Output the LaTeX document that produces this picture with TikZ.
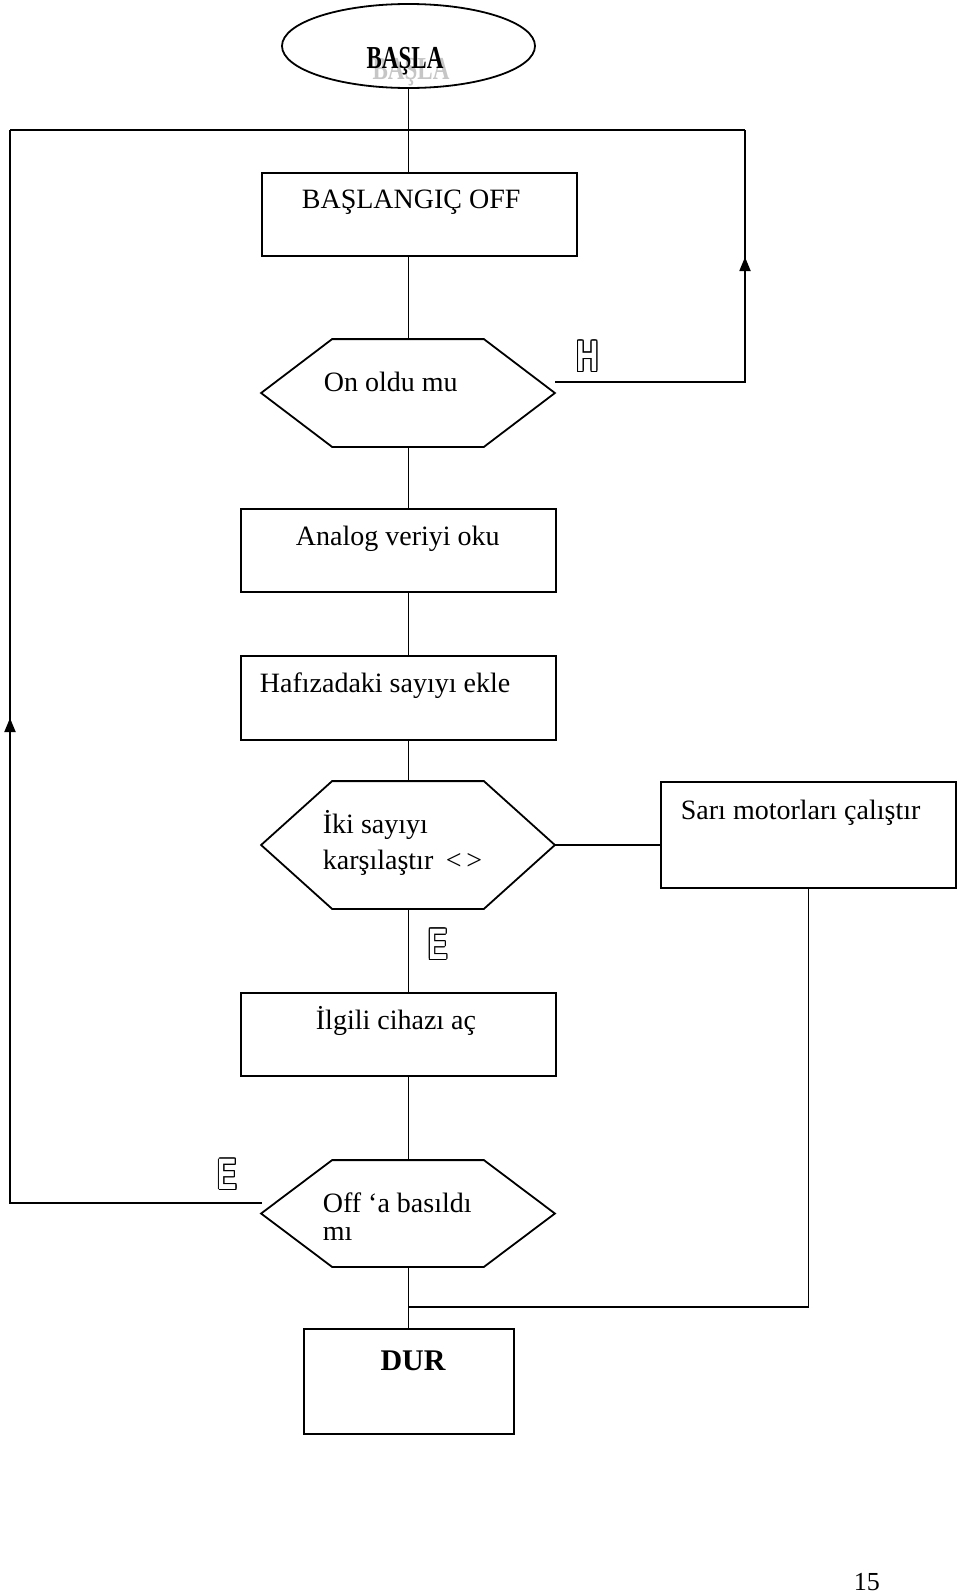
\documentclass[tikz,border=0pt]{standalone}
\usepackage{fontspec}
\setmainfont{Liberation Serif}
\newfontfamily\hsans{Liberation Sans}
\usepackage{contour}
\contourlength{1.3pt}
\usetikzlibrary{arrows.meta,calc,shapes.geometric}
\newcommand{\outl}[1]{{\color{white}\contour{black}{#1}}}
\begin{document}
\begin{tikzpicture}[x=1pt,y=-1pt,line width=1.8pt,
  box/.style={draw,rectangle,inner sep=0pt,line width=1.8pt},
  hexbase/.style={rectangle,inner sep=0pt,draw=none},
  txt/.style={anchor=base west,inner sep=0pt,font=\fontsize{28}{33}\selectfont},
  lbl/.style={inner sep=0pt,font=\hsans\bfseries\fontsize{44}{48}\selectfont},
  tip/.style={-{Triangle[length=14pt,width=11pt]}}]
\useasboundingbox (0,0) rectangle (960,1593);
% trunk x
\coordinate (tk) at (408.5,0);
% start ellipse
\node[draw,ellipse,line width=1.8pt,minimum width=253pt,minimum height=84pt,inner sep=0pt] (ell) at (408.5,46) {};
\node[anchor=base,inner sep=0pt,text=gray!45,font=\bfseries\fontsize{32}{36}\selectfont] (bslsh) at (411,79) {\scalebox{0.72}[1]{BAŞLA}};
\node[anchor=base,inner sep=0pt,font=\bfseries\fontsize{32}{36}\selectfont] (bsl) at (405,68) {\scalebox{0.72}[1]{BAŞLA}};
% boxes
\node[box,minimum width=315pt,minimum height=83pt] (b1) at (419.5,214.5) {};
\node[box,minimum width=315pt,minimum height=83pt] (b2) at (398.5,550.5) {};
\node[box,minimum width=315pt,minimum height=84pt] (b3) at (398.5,698) {};
\node[box,minimum width=295pt,minimum height=106pt] (b5) at (808.5,835) {};
\node[box,minimum width=315pt,minimum height=83pt] (b4) at (398.5,1034.5) {};
\node[box,minimum width=210pt,minimum height=105pt] (b6) at (409,1381.5) {};
% hexagons
\node[hexbase,minimum width=292pt,minimum height=106pt] (h1) at (408,393) {};
\node[hexbase,minimum width=292pt,minimum height=126pt] (h2) at (408,845) {};
\node[hexbase,minimum width=292pt,minimum height=105pt] (h3) at (408,1213.5) {};
\foreach \h in {h1,h2,h3}{
  \draw[line join=miter] (\h.west) -- ([xshift=71pt]\h.north west) -- ([xshift=-71pt]\h.north east) -- (\h.east) -- ([xshift=-71pt]\h.south east) -- ([xshift=71pt]\h.south west) -- cycle;
}
% texts
\node[txt] (t1) at (301,208) {BAŞLANGIÇ OFF};
\node[txt] (t2) at (323,391) {On oldu mu};
\node[txt] (t3) at (295,545) {Analog veriyi oku};
\node[txt] (t4) at (259,692) {Hafızadaki sayıyı ekle};
\node[txt] (t5) at (322,833) {İki sayıyı};
\node[txt] (t6) at (322,869) {karşılaştır\hspace{0.45em}<\,>};
\node[txt] (t7) at (680,819) {Sarı motorları çalıştır};
\node[txt] (t8) at (315,1029) {İlgili cihazı aç};
\node[txt] (t9) at (322,1212) {Off ‘a basıldı};
\node[txt] (t10) at (322,1240) {mı};
\node[anchor=base,inner sep=0pt,font=\bfseries\fontsize{30}{34}\selectfont] (t11) at (413,1370) {DUR};
\node[anchor=base west,inner sep=0pt,font=\fontsize{26}{30}\selectfont] (pg) at (853,1590) {15};
% outlined labels
\node[lbl] (lh) at (587.5,357) {\scalebox{0.7}[1]{\outl{H}}};
\node[lbl] (le1) at (438,945) {\scalebox{0.66}[1]{\outl{E}}};
\node[lbl] (le2) at (227.5,1175) {\scalebox{0.66}[1]{\outl{E}}};
% trunk
\draw (ell.south -| tk) -- (b1.north -| tk);
\draw (b1.south -| tk) -- (h1.north -| tk);
\draw (h1.south -| tk) -- (b2.north -| tk);
\draw (b2.south -| tk) -- (b3.north -| tk);
\draw (b3.south -| tk) -- (h2.north -| tk);
\draw (h2.south -| tk) -- (b4.north -| tk);
\draw (b4.south -| tk) -- (h3.north -| tk);
\draw (h3.south -| tk) -- (b6.north -| tk);
% loop coordinates
\coordinate (tl) at (10,130);
\coordinate (tr) at (745,130);
\coordinate (hs) at (555,382);
\coordinate (hc) at (745,382);
\coordinate (ha) at (745,257);
\coordinate (es) at (262,1203);
\coordinate (ec) at (10,1203);
\coordinate (ea) at (10,718);
\coordinate (sj) at (408.5,1307);
% top line
\draw (tl) -- (tr);
% H branch
\draw (hs) -- (hc) -- (tr);
\draw[tip] (hc) -- (ha);
% E branch (left)
\draw (es) -- (ec) -- (tl);
\draw[tip] (ec) -- (ea);
% compare -> motors
\draw (h2.east) -- (h2.east -| b5.west);
\draw (b5.south) -- (b5.south |- sj) -- (sj);
\end{tikzpicture}
\end{document}
